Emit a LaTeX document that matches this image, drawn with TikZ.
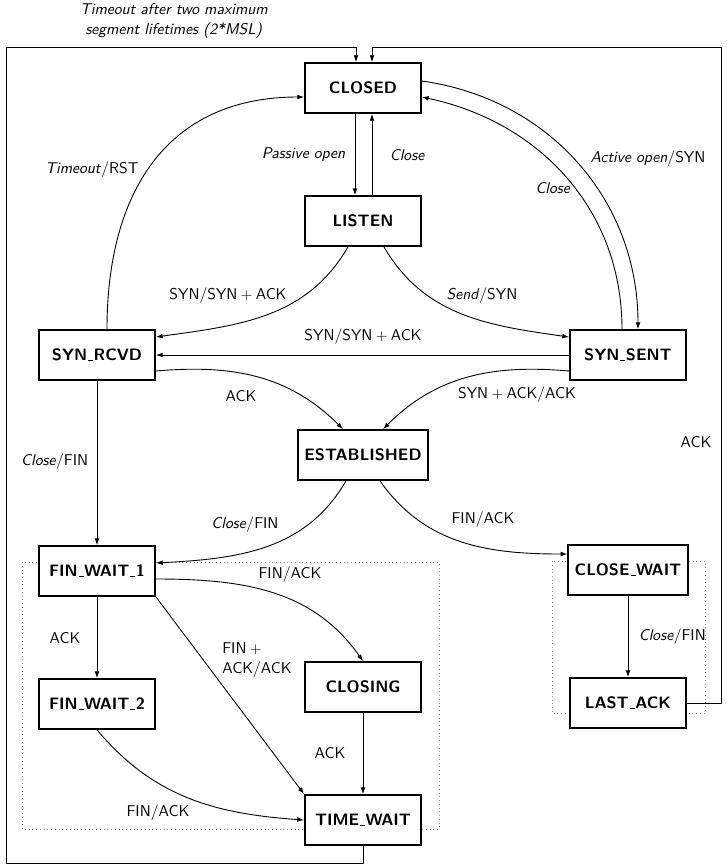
\documentclass[tikz,border=0pt]{standalone}
\usepackage{fontspec}
\usetikzlibrary{arrows.meta,calc}
\newcommand\usc{\leavevmode\kern.06em\vbox{\hrule width.3em height 0.6pt}\kern.03em}
\begin{document}
\begin{tikzpicture}[x=0.667pt,y=0.667pt,
  state/.style={draw,line width=1.2pt,fill=white,minimum width=77.4pt,minimum height=33.3pt,inner xsep=4.3pt,font=\fontsize{11}{13}\sffamily\bfseries},
  edge/.style={-{Latex[length=4.5pt,width=3.2pt]},line width=0.6pt},
  lbl/.style={font=\fontsize{10.4}{13.3}\sffamily,inner sep=1pt},
  grp/.style={draw=black!40,dotted,line width=0.5pt}]
\useasboundingbox (0,0) rectangle (727,-868);
% groups
\draw[grp] (22,-562) rectangle (439,-829);
\draw[grp] (552,-561) rectangle (705,-713);
% states
\node[state] (closed) at (363,-88) {CLOSED};
\node[state] (listen) at (363,-221) {LISTEN};
\node[state] (synrcvd) at (97,-355) {SYN\usc RCVD};
\node[state] (synsent) at (628,-355) {SYN\usc SENT};
\node[state] (estab) at (363,-455) {ESTABLISHED};
\node[state] (fw1) at (97,-571) {FIN\usc WAIT\usc 1};
\node[state] (closewait) at (628,-570) {CLOSE\usc WAIT};
\node[state] (fw2) at (97,-704) {FIN\usc WAIT\usc 2};
\node[state] (closing) at (363,-687) {CLOSING};
\node[state] (lastack) at (628,-703) {LAST\usc ACK};
\node[state] (timewait) at (363,-820) {TIME\usc WAIT};
% coordinates for outer loops
\coordinate (tl1) at (363,-863);
\coordinate (tl2) at (6,-863);
\coordinate (tl3) at (6,-47);
\coordinate (tl4) at (356,-47);
\coordinate (la1) at (721,-703);
\coordinate (la2) at (721,-47);
\coordinate (la3) at (372,-47);
% edges
\draw[edge] ($(closed.south)+(-8,0)$) -- ($(listen.north)+(-8,0)$);
\node[lbl,anchor=east] (l1) at (347,-155) {\textit{Passive open}};
\draw[edge] ($(listen.north)+(9,0)$) -- ($(closed.south)+(9,0)$);
\node[lbl,anchor=west] (l2) at (388,-155) {\textit{Close}};
\draw[edge] ($(synrcvd.north)+(10,0)$) to[out=90,in=180,looseness=1.15] ($(closed.west)+(0,-9)$);
\node[lbl] (l3) at (92,-170) {\textit{Timeout}/RST};
\draw[edge] ($(closed.east)+(0,7)$) to[out=-8,in=90] ($(synsent.north)+(10,0)$);
\node[lbl] (l4) at (648,-159) {\textit{Active open}/SYN};
\draw[edge] ($(synsent.north)+(-6,0)$) to[out=90,in=-12] ($(closed.east)+(0,-9)$);
\node[lbl] (l5) at (553,-188) {\textit{Close}};
\draw[edge] ($(listen.south)+(-15,0)$) to[out=-120,in=8] ($(synrcvd.east)+(0,18)$);
\node[lbl] (l6) at (228,-296) {SYN/SYN${}+{}$ACK};
\draw[edge] ($(listen.south)+(21,0)$) to[out=-60,in=172] ($(synsent.west)+(0,18)$);
\node[lbl] (l7) at (482,-296) {\textit{Send}/SYN};
\draw[edge] (synsent.west) -- (synrcvd.east);
\node[lbl] (l8) at (363,-337) {SYN/SYN${}+{}$ACK};
\draw[edge] ($(synrcvd.east)+(0,-16)$) to[out=5,in=135] ($(estab.north)+(-20,0)$);
\node[lbl] (l9) at (241,-396) {ACK};
\draw[edge] ($(synsent.west)+(0,-16)$) to[out=175,in=45] ($(estab.north)+(20,0)$);
\node[lbl] (l10) at (517,-395) {SYN${}+{}$ACK/ACK};
\draw[edge] (synrcvd.south) -- (fw1.north);
\node[lbl,anchor=east] (l11) at (90,-462) {\textit{Close}/FIN};
\draw[edge] ($(estab.south)+(-17,0)$) to[out=-120,in=3] ($(fw1.east)+(0,8)$);
\node[lbl] (l12) at (245,-525) {\textit{Close}/FIN};
\draw[edge] ($(estab.south)+(17,0)$) to[out=-55,in=180] ($(closewait.west)+(0,16)$);
\node[lbl] (l13) at (483,-520) {FIN/ACK};
\draw[edge] (fw1.south) -- (fw2.north);
\node[lbl] (l14) at (65,-638) {ACK};
\draw[edge] ($(fw1.east)+(0,-8)$) to[out=0,in=125] (closing.north);
\node[lbl] (l15) at (290,-575) {FIN/ACK};
\draw[edge] (fw1.south east) -- (timewait.north west);
\node[lbl,align=left] (l16) at (257,-660) {FIN${}+{}$\\ACK/ACK};
\draw[edge] (closing.south) -- (timewait.north);
\node[lbl] (l17) at (330,-753) {ACK};
\draw[edge] (fw2.south) to[out=-50,in=176] (timewait.west);
\node[lbl] (l18) at (158,-813) {FIN/ACK};
\draw[edge] (closewait.south) -- (lastack.north);
\node[lbl,anchor=west] (l19) at (637,-637) {\textit{Close}/FIN};
\draw[edge] (timewait.south) -- (tl1) -- (tl2) -- (tl3) -- (tl4) -- ($(closed.north)+(-7,0)$);
\node[lbl,align=center] (l20) at (174,-21) {\textit{Timeout after two maximum}\\\textit{segment lifetimes (2*MSL)}};
\draw[edge] (lastack.east) -- (la1) -- (la2) -- (la3) -- ($(closed.north)+(9,0)$);
\node[lbl] (l21) at (696,-442) {ACK};
\end{tikzpicture}
\end{document}
